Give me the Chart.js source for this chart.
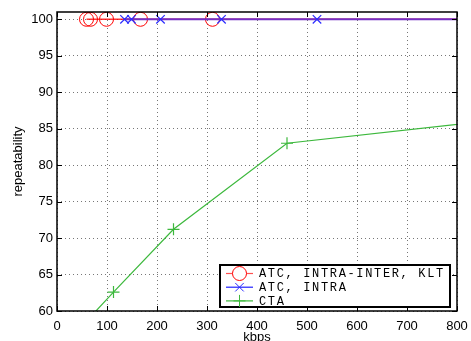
<!DOCTYPE html>
<html><head><meta charset="utf-8">
<script src="https://cdn.jsdelivr.net/npm/chart.js@4/dist/chart.umd.min.js"></script>
<style>html,body{margin:0;padding:0;background:#fff}#wrap{width:471px;height:341px}</style>
</head><body><div id="wrap"><canvas id="c" width="471" height="341"></canvas></div>
<script>
const seriesLabels = ['ATC, INTRA-INTER, KLT', 'ATC, INTRA', 'CTA'];
const xTitle = 'kbps';
const yTitle = 'repeatability';
const atcInterX = [59, 67, 99, 167, 311, 1200];
const atcInterY = [100, 100, 100, 100, 100, 100];
const atcIntraX = [135, 149, 207, 329, 520, 1300];
const atcIntraY = [100, 100, 100, 100, 100, 100];
const ctaX = [40, 113, 233, 460, 1000];
const ctaY = [57.2, 62.6, 71.2, 83.0, 87.1];
const xTicks = [0, 100, 200, 300, 400, 500, 600, 700, 800];
const yTicks = [60, 65, 70, 75, 80, 85, 90, 95, 100];

const pts = (xs, ys) => xs.map((x, i) => ({x, y: ys[i]}));

const frame = {
  id: 'frame',
  afterDatasetsDraw(chart) {
    const {ctx, chartArea: a, scales} = chart;
    ctx.save();
    ctx.strokeStyle = '#000'; ctx.lineWidth = 1;
    ctx.beginPath();
    xTicks.forEach(v => { const p = Math.round(scales.x.getPixelForValue(v)) + 0.5;
      ctx.moveTo(p, a.bottom); ctx.lineTo(p, a.bottom - 5);
      ctx.moveTo(p, a.top); ctx.lineTo(p, a.top + 5); });
    yTicks.forEach(v => { const p = Math.round(scales.y.getPixelForValue(v)) + 0.5;
      ctx.moveTo(a.left, p); ctx.lineTo(a.left + 5, p);
      ctx.moveTo(a.right, p); ctx.lineTo(a.right - 5, p); });
    ctx.stroke();
    ctx.lineWidth = 1.5;
    ctx.strokeRect(a.left, a.top, a.right - a.left, a.bottom - a.top);
    // axis title x
    ctx.fillStyle = '#000'; ctx.font = '13px "Liberation Sans", Arial';
    ctx.textAlign = 'center'; ctx.textBaseline = 'top';
    ctx.fillText(xTitle, (a.left + a.right) / 2, 331);
    ctx.textAlign = 'left';
    // legend
    const bx = 220, by = 265, bw = 230, bh = 42;
    ctx.fillStyle = '#fff'; ctx.fillRect(bx, by, bw, bh);
    ctx.lineWidth = 2; ctx.strokeStyle = '#000'; ctx.strokeRect(bx, by, bw, bh);
    chart.data.datasets.forEach((ds, i) => {
      const y = by + 8.5 + i * 13.7;
      ctx.strokeStyle = ds.legendColor; ctx.lineWidth = 1.2;
      ctx.beginPath(); ctx.moveTo(226, y); ctx.lineTo(253, y); ctx.stroke();
      ctx.strokeStyle = ds.pointBorderColor; ctx.lineWidth = 1;
      Chart.helpers.drawPoint(ctx, {pointStyle: ds.pointStyle, radius: ds.pointRadius, borderWidth: 1}, 239.5, y);
      ctx.fillStyle = '#000'; ctx.font = '12px "Liberation Mono", monospace';
      ctx.textBaseline = 'middle';
      const s = ds.label; let x = 259;
      for (const ch of s) { ctx.fillText(ch, x, y + 0.5); x += 8.85; }
    });
    ctx.restore();
  }
};

const tickFont = { family: '"Liberation Sans", Arial', size: 13 };
new Chart(document.getElementById('c'), {
  type: 'scatter',
  data: { datasets: [
    { label: seriesLabels[0], data: pts(atcInterX, atcInterY), showLine: true, order: 2,
      borderColor: 'rgba(255,0,0,0.8)', legendColor: '#ff5050', borderWidth: 1.5,
      pointStyle: 'circle', pointRadius: 7, pointBorderColor: '#ff0000',
      pointBackgroundColor: 'rgba(0,0,0,0)', pointBorderWidth: 1 },
    { label: seriesLabels[1], data: pts(atcIntraX, atcIntraY), showLine: true, order: 1,
      borderColor: '#7430c4', legendColor: '#2020ff', borderWidth: 2,
      pointStyle: 'crossRot', pointRadius: 6, pointBorderColor: '#2a2aff',
      pointBackgroundColor: 'rgba(0,0,0,0)', pointBorderWidth: 1.2 },
    { label: seriesLabels[2], data: pts(ctaX, ctaY), showLine: true, order: 0,
      borderColor: '#3cb83c', legendColor: '#3cb83c', borderWidth: 1.2,
      pointStyle: 'cross', pointRadius: 6, pointBorderColor: '#3cb83c',
      pointBackgroundColor: 'rgba(0,0,0,0)', pointBorderWidth: 1.2 }
  ]},
  options: {
    responsive: false, animation: false, devicePixelRatio: 1,
    layout: { padding: { top: 12, right: 14, left: 0, bottom: 0 } },
    plugins: { legend: { display: false }, tooltip: { enabled: false } },
    scales: {
      x: { type: 'linear', min: 0, max: 800,
        afterBuildTicks: s => { s.ticks = xTicks.map(v => ({value: v})); },
        afterFit: s => { s.height = 30; s.paddingLeft = 0; s.paddingRight = 0; },
        ticks: { color: '#000', font: tickFont, padding: 8, maxRotation: 0 },
        grid: { color: '#777', drawTicks: false, lineWidth: 1 },
        border: { display: false, dash: [1, 3] },
        title: { display: false } },
      y: { type: 'linear', min: 60, max: 101,
        afterBuildTicks: s => { s.ticks = yTicks.map(v => ({value: v})); },
        afterFit: s => { s.width = 57; s.paddingTop = 0; s.paddingBottom = 0; },
        ticks: { color: '#000', font: tickFont, padding: 4 },
        grid: { color: '#777', drawTicks: false, lineWidth: 1 },
        border: { display: false, dash: [1, 3] },
        title: { display: true, text: yTitle, color: '#000', font: tickFont, padding: { top: 11, bottom: 0 } } }
    }
  },
  plugins: [frame]
});
</script></body></html>
